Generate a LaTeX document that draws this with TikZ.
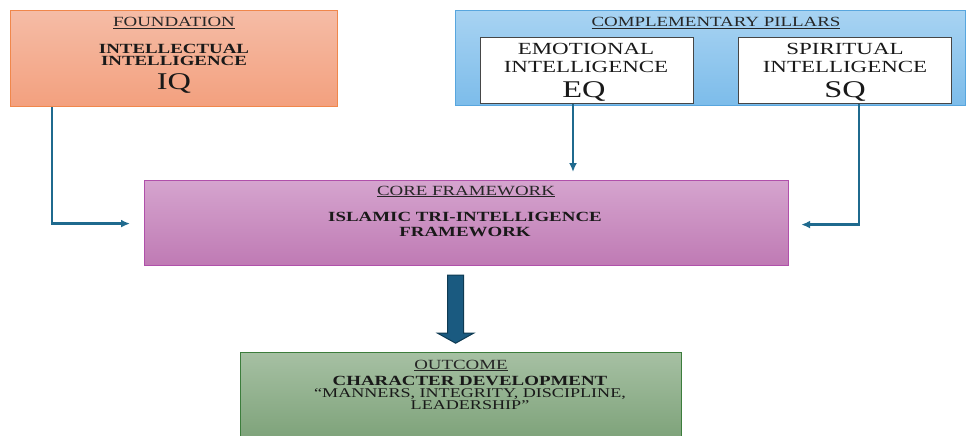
\documentclass[tikz,border=0pt]{standalone}
\usepackage{fontspec}
\setmainfont{Liberation Serif}[FakeStretch=1.35]
\usetikzlibrary{arrows.meta,calc,shadows}
\definecolor{conncol}{HTML}{1F6A8E}
\definecolor{bigfill}{HTML}{1A5A80}
\definecolor{bigdraw}{HTML}{0E3A52}
\tikzset{
  boxbase/.style={rectangle, inner sep=0pt, anchor=north west, line width=1.2pt},
  foundbox/.style={boxbase, top color={rgb,255:red,245;green,188;blue,166}, bottom color={rgb,255:red,243;green,160;blue,126}, draw={rgb,255:red,240;green,135;blue,75}},
  compbox/.style={boxbase, top color={rgb,255:red,168;green,211;blue,242}, bottom color={rgb,255:red,124;green,188;blue,234}, draw={rgb,255:red,88;green,166;blue,222}},
  innerbox/.style={boxbase, fill=white, draw={rgb,255:red,70;green,70;blue,70}, line width=0.8pt, drop shadow={shadow xshift=1pt, shadow yshift=-1pt, fill=black!25}},
  corebox/.style={boxbase, top color={rgb,255:red,213;green,164;blue,206}, bottom color={rgb,255:red,191;green,122;blue,180}, draw={rgb,255:red,176;green,80;blue,170}},
  outbox/.style={boxbase, top color={rgb,255:red,166;green,192;blue,163}, bottom color={rgb,255:red,125;green,162;blue,121}, draw={rgb,255:red,60;green,125;blue,60}},
  hdr/.style={anchor=base, inner sep=0pt, font=\fontsize{14}{14}\selectfont, text=black!85},
  bld/.style={anchor=base, inner sep=0pt, font=\fontsize{14}{14}\selectfont\bfseries, text=black!90},
  reg/.style={anchor=base, inner sep=0pt, font=\fontsize{17}{17}\selectfont, text=black!90},
  multi/.style={anchor=north, inner sep=0pt, align=center, text=black!90},
  big/.style={anchor=base, inner sep=0pt, font=\fontsize{24}{24}\selectfont, text=black!90},
  conn/.style={draw=conncol, line width=2.4pt, -{Latex[length=9pt,width=8pt]}},
  bigarrow/.style={fill=bigfill, draw=bigdraw, line width=1pt, line join=miter}
}
\begin{document}
\begin{tikzpicture}[x=1pt,y=-1pt]
\useasboundingbox[fill=white] (0,0) rectangle (966,436);
% boxes
\node[foundbox, minimum width=327pt, minimum height=96pt] (found) at (10,10) {};
\node[compbox, minimum width=510pt, minimum height=95pt] (comp) at (455,10) {};
\node[innerbox, minimum width=213pt, minimum height=66pt] (eq) at (480,37) {};
\node[innerbox, minimum width=213pt, minimum height=66pt] (sq) at (738,37) {};
\node[corebox, minimum width=644pt, minimum height=85pt] (core) at (144,180) {};
\node[outbox, minimum width=441pt, minimum height=88pt] (out) at (240,352) {};
% foundation texts
\node[hdr] (t1) at (174,27) {\underline{FOUNDATION}};
\node[bld] (t2) at (174,53) {INTELLECTUAL};
\node[bld] (t3) at (174,66) {INTELLIGENCE};
\node[big] (t4) at (174,89) {IQ};
% complementary
\node[hdr] (t5) at (716,27) {\underline{COMPLEMENTARY PILLARS}};
\node[reg] (t6) at (586,55) {EMOTIONAL};
\node[reg] (t7) at (586,72) {INTELLIGENCE};
\node[big] (t8) at (584,97) {EQ};
\node[reg] (t9) at (845,55) {SPIRITUAL};
\node[reg] (t10) at (845,72) {INTELLIGENCE};
\node[big] (t11) at (845,97) {SQ};
% core
\node[hdr] (t12) at (466,195) {\underline{CORE FRAMEWORK}};
\node[bld] (t13) at (465,221) {ISLAMIC TRI-INTELLIGENCE};
\node[bld] (t14) at (465,236) {FRAMEWORK};
% outcome
\node[hdr] (t15) at (461,369) {\underline{OUTCOME}};
\node[multi] (t16) at (470,376.5) {\fontsize{14}{11}\selectfont\bfseries CHARACTER DEVELOPMENT\\
  \fontsize{13.4}{11}\selectfont ``MANNERS, INTEGRITY, DISCIPLINE,\\
  \fontsize{13.4}{11}\selectfont LEADERSHIP''};
% connectors
\draw[conn] ([xshift=42pt]found.south west) |- ([xshift=-14pt,yshift=-0.5pt]core.west);
\draw[conn] ([xshift=93pt]eq.south west) coordinate (eqs) -- ([yshift=8pt]eqs |- core.north);
\draw[conn] ([xshift=121pt]sq.south west) |- ([xshift=12pt,yshift=-1.5pt]core.east);
% big arrow
\draw[bigarrow] ([xshift=-19pt,yshift=-9pt]core.south) -- ++(16,0) -- ++(0,58) -- ++(10,0) -- ++(-18,10) -- ++(-18,-10) -- ++(10,0) -- cycle;
\end{tikzpicture}
\end{document}
